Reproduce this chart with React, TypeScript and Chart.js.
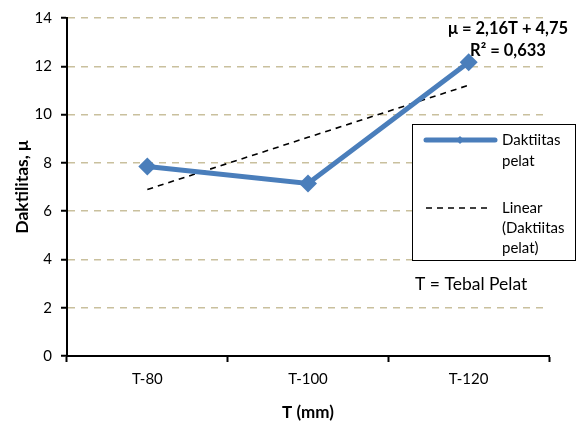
import React, { useEffect, useRef } from "react";
import { Chart, registerables } from "chart.js";

Chart.register(...registerables);

const categories = ["T-80", "T-100", "T-120"];
const ductility = [7.85, 7.15, 12.17];
const yTicksMin = 0;
const yTicksMax = 14;
const yTickStep = 2;
const seriesLabel = ["Daktiitas", "pelat"];
const trendLabel = ["Linear", "(Daktiitas", "pelat)"];
const equationLines = ["μ = 2,16T + 4,75", "R² = 0,633"];
const noteText = "T = Tebal Pelat";
const xTitle = "T (mm)";
const yTitle = "Daktilitas, μ";

const FONT = "Lato, 'Open Sans', sans-serif";
const BLUE = "#4a7ebb";
const GRID = "#c9c09d";

function linearFit(ys: number[]) {
  const n = ys.length;
  const xs = ys.map((_, i) => i + 1);
  const mx = xs.reduce((a, b) => a + b, 0) / n;
  const my = ys.reduce((a, b) => a + b, 0) / n;
  let sxy = 0;
  let sxx = 0;
  for (let i = 0; i < n; i++) {
    sxy += (xs[i] - mx) * (ys[i] - my);
    sxx += (xs[i] - mx) * (xs[i] - mx);
  }
  const slope = sxy / sxx;
  const intercept = my - slope * mx;
  return xs.map((x) => slope * x + intercept);
}

const overlayPlugin = {
  id: "overlay",
  afterDraw(chart: any) {
    const ctx = chart.ctx as CanvasRenderingContext2D;
    ctx.save();
    // equation
    ctx.fillStyle = "#000";
    ctx.font = `bold 16.5px ${FONT}`;
    ctx.textAlign = "center";
    ctx.textBaseline = "middle";
    ctx.fillText(equationLines[0], 508, 29);
    ctx.fillText(equationLines[1], 508, 51);

    // legend box
    const bx = 412.5, by = 124.5, bw = 163, bh = 136;
    ctx.fillStyle = "#fff";
    ctx.fillRect(bx, by, bw, bh);
    ctx.strokeStyle = "#000";
    ctx.lineWidth = 1;
    ctx.strokeRect(bx, by, bw, bh);

    // series sample
    ctx.strokeStyle = BLUE;
    ctx.lineWidth = 5;
    ctx.lineCap = "round";
    ctx.beginPath();
    ctx.moveTo(426, 140);
    ctx.lineTo(495, 140);
    ctx.stroke();
    ctx.fillStyle = BLUE;
    ctx.beginPath();
    ctx.moveTo(460, 136);
    ctx.lineTo(464, 140);
    ctx.lineTo(460, 144);
    ctx.lineTo(456, 140);
    ctx.closePath();
    ctx.fill();

    // trend sample
    ctx.strokeStyle = "#000";
    ctx.lineWidth = 1.5;
    ctx.lineCap = "butt";
    ctx.setLineDash([6, 5]);
    ctx.beginPath();
    ctx.moveTo(426, 208);
    ctx.lineTo(488, 208);
    ctx.stroke();
    ctx.setLineDash([]);

    ctx.fillStyle = "#000";
    ctx.font = `15px ${FONT}`;
    ctx.textAlign = "left";
    ctx.textBaseline = "middle";
    ctx.fillText(seriesLabel[0], 502, 140);
    ctx.fillText(seriesLabel[1], 502, 161);
    ctx.fillText(trendLabel[0], 502, 208);
    ctx.fillText(trendLabel[1], 502, 228);
    ctx.fillText(trendLabel[2], 502, 248);

    ctx.font = `17.5px ${FONT}`;
    ctx.fillText(noteText, 415, 284);
    ctx.restore();
  },
};

export default function App() {
  const canvasRef = useRef<HTMLCanvasElement | null>(null);

  useEffect(() => {
    if (!canvasRef.current) return;
    const trend = linearFit(ductility);
    const chart = new Chart(canvasRef.current, {
      type: "line",
      data: {
        labels: categories,
        datasets: [
          {
            label: seriesLabel.join(" "),
            data: ductility,
            borderColor: BLUE,
            backgroundColor: BLUE,
            borderWidth: 5,
            pointStyle: "rectRot",
            pointRadius: 9,
            pointBorderWidth: 0,
            pointBackgroundColor: BLUE,
            tension: 0,
            order: 1,
          },
          {
            label: trendLabel.join(" "),
            data: trend,
            borderColor: "#000",
            borderWidth: 1.6,
            borderDash: [6, 5],
            pointRadius: 0,
            tension: 0,
            order: 2,
          },
        ],
      },
      options: {
        animation: false,
        responsive: true,
        maintainAspectRatio: false,
        layout: { padding: { top: 15, right: 32, left: 0, bottom: 0 } },
        plugins: {
          legend: { display: false },
          tooltip: { enabled: false },
        },
        scales: {
          x: {
            type: "category",
            offset: true,
            afterFit(scale: any) {
              scale.height = 67;
            },
            grid: {
              display: true,
              offset: true,
              drawOnChartArea: false,
              drawTicks: true,
              tickLength: 6,
              tickColor: "#000",
              tickWidth: 2,
            },
            border: { display: true, color: "#000", width: 2 },
            ticks: {
              color: "#000",
              font: { family: FONT, size: 15 },
              padding: 8,
            },
            title: {
              display: true,
              text: xTitle,
              color: "#000",
              font: { family: FONT, size: 17, weight: "bold" },
              padding: { top: 6, bottom: 0 },
            },
          },
          y: {
            min: yTicksMin,
            max: yTicksMax,
            afterFit(scale: any) {
              scale.width = 67;
            },
            ticks: {
              stepSize: yTickStep,
              color: "#000",
              font: { family: FONT, size: 15 },
              padding: 9,
            },
            grid: {
              color: (c: any) => (c.tick && c.tick.value === 0 ? "rgba(0,0,0,0)" : GRID),
              lineWidth: 1.5,
              tickLength: 6,
              tickColor: "#000",
              tickWidth: 2,
              tickBorderDash: [],
            },
            border: { display: true, color: "#000", width: 2, dash: [7, 6] },
            title: {
              display: true,
              text: yTitle,
              color: "#000",
              font: { family: FONT, size: 17.5, weight: "bold" },
              padding: { top: 12, bottom: 0 },
            },
          },
        },
      },
      plugins: [overlayPlugin],
    });
    return () => chart.destroy();
  }, []);

  return (
    <div style={{ position: "fixed", left: 0, top: 0, width: 581, height: 423, background: "#fff" }}>
      <canvas ref={canvasRef} />
    </div>
  );
}
